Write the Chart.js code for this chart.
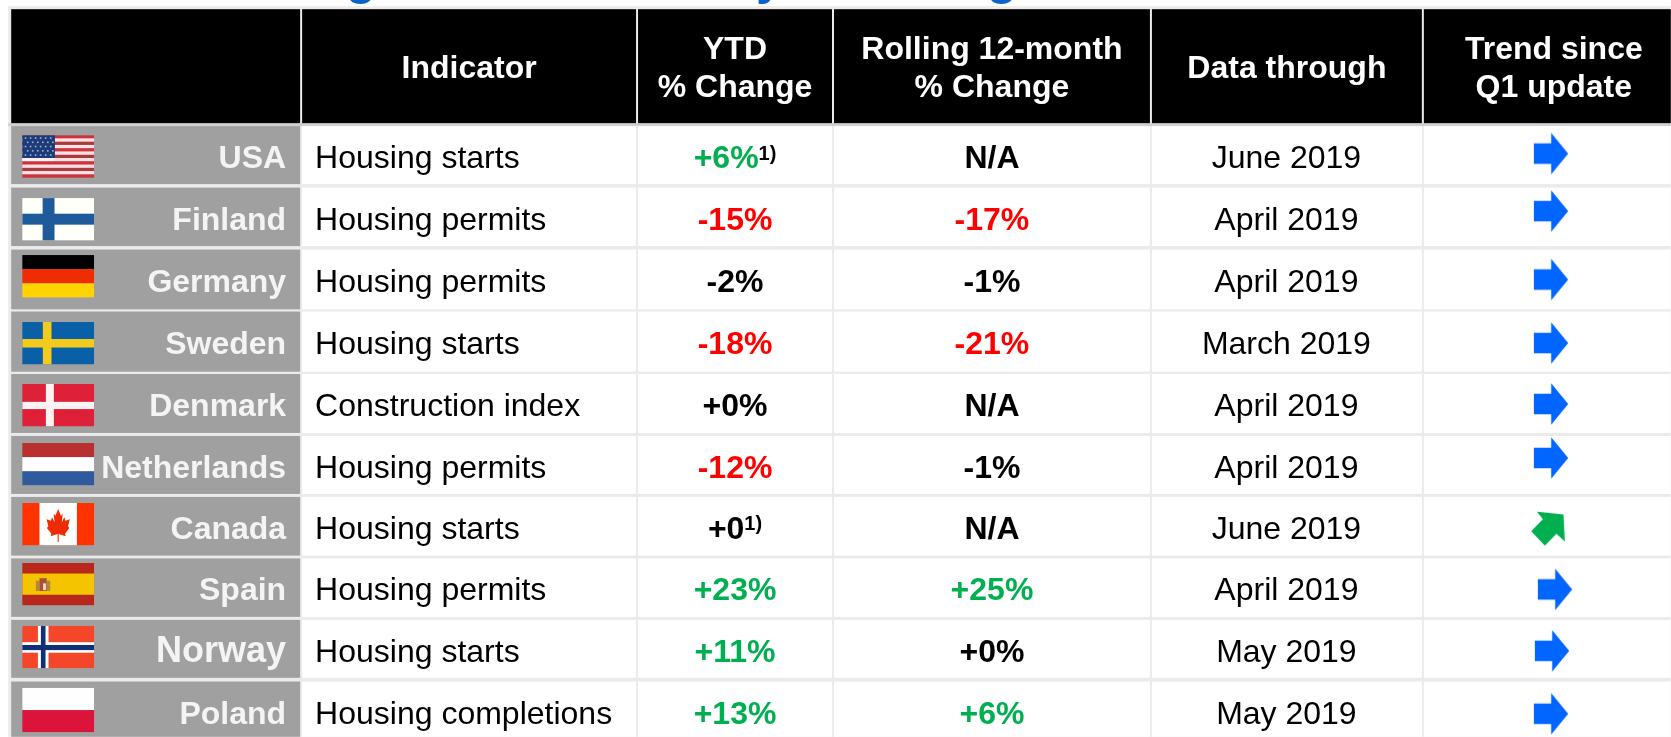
<!DOCTYPE html>
<html><head><meta charset="utf-8">
<style>html,body{margin:0;padding:0;background:#fff;overflow:hidden}canvas{display:block}</style>
<script src="https://cdn.jsdelivr.net/npm/chart.js@4"></script>
</head><body><canvas id="c" width="1671" height="737"></canvas>
<script>
// ---- data ----
const countries = ['USA','Finland','Germany','Sweden','Denmark','Netherlands','Canada','Spain','Norway','Poland'];
const indicators = ['Housing starts','Housing permits','Housing permits','Housing starts','Construction index','Housing permits','Housing starts','Housing permits','Housing starts','Housing completions'];
const ytdChange = ['+6%','-15%','-2%','-18%','+0%','-12%','+0','+23%','+11%','+13%'];
const ytdNotes = ['1)','','','','','','1)','','',''];
const rollingChange = ['N/A','-17%','-1%','-21%','N/A','-1%','N/A','+25%','+0%','+6%'];
const dataThrough = ['June 2019','April 2019','April 2019','March 2019','April 2019','April 2019','June 2019','April 2019','May 2019','May 2019'];
const trend = ['flat','flat','flat','flat','flat','flat','up','flat','flat','flat'];
const headers = ['', ['Indicator'], ['YTD','% Change'], ['Rolling 12-month','% Change'], ['Data through'], ['Trend since','Q1 update']];

// ---- layout (axis units = reference pixels) ----
const colEdges = [[11,300],[302,636],[638,832],[834,1150],[1152,1422],[1424,1671]];
const headerBox = [9,123];
const rowTops = [126,187.5,249.5,311.5,374,436,497,558.5,620,681.7];
const rowBottoms = [184,246,309.3,371.7,433,494,555.7,617,678,737];
const flagTops = [135,198,255,322,384,443,503,563,626,688];
const trendDx = [0,0,0,0,0,0,-1,4,1,0];
const trendY = [153.5,211,279.5,343,404,458,529,589.5,651,714];
const titleScraps = [['g',361],['y',770],['g',1002]];
const TRENDX = 1551;
const FONT = '"Liberation Sans", Arial, sans-serif';
const GREEN='#00b050', RED='#ff0000', BLUE='#0066ff';

function valueColor(s){
  const n=parseInt(s,10);
  if(isNaN(n)) return '#000';
  return n>=5?GREEN:(n<=-5?RED:'#000');
}
function arrowCanvas(points,color){
  const c=document.createElement('canvas');c.width=48;c.height=48;
  const g=c.getContext('2d');g.fillStyle=color;g.beginPath();
  points.forEach((p,i)=>i?g.lineTo(24+p[0],24+p[1]):g.moveTo(24+p[0],24+p[1]));
  g.closePath();g.fill();return c;
}
const arrowFlat=arrowCanvas([[-17,-10.3],[0.3,-10.3],[0.3,-20.7],[17.3,0],[0.3,20.7],[0.3,10.3],[-17,10.3]],BLUE);
const arrowUp=arrowCanvas([[-13,-17.2],[13.6,-14.5],[15,12.8],[6.6,4.8],[-5,16.8],[-18.7,2.2],[-7,-9.8]],GREEN);

// ---- flags, in unit coordinates of their box ----
function rect(g,x,y,w,h,c){g.fillStyle=c;g.fillRect(x,y,w,h);}
const flagPainters={
  USA(g,x,y,w,h){
    for(let i=0;i<13;i++) rect(g,x,y+h*i/13,w,h/13+.3,i%2?'#ffe0e6':(i%4==0?'#cf3238':'#a93b3f'));
    rect(g,x,y,w*.455,h*.54,'#1d3b78');
    g.fillStyle='#9fb4d0';
    for(let r=0;r<5;r++)for(let k=0;k<6;k++){g.fillRect(x+w*(.035+k*.07)+(r%2)*w*.03,y+h*(.05+r*.1),1.6,1.6);}
    rect(g,x,y+h*.54,w*.455,h*.07,'#fff4f6');
  },
  Finland(g,x,y,w,h){rect(g,x,y,w,h,'#fffffa');rect(g,x+w*.284,y,w*.165,h,'#1f5a9a');rect(g,x,y+h*.367,w,h*.258,'#1f5a9a');},
  Germany(g,x,y,w,h){rect(g,x,y,w,h/3,'#000');rect(g,x,y+h/3,w,h/3,'#f02c00');rect(g,x,y+h*2/3,w,h/3,'#ffd400');},
  Sweden(g,x,y,w,h){rect(g,x,y,w,h,'#0a60a6');rect(g,x+w*.287,y,w*.12,h,'#f2cb1c');rect(g,x,y+h*.4,w,h*.2,'#f2cb1c');},
  Denmark(g,x,y,w,h){rect(g,x,y,w,h,'#df2039');rect(g,x+w*.329,y,w*.111,h,'#fdf3f3');rect(g,x,y+h*.42,w,h*.17,'#fdf3f3');},
  Netherlands(g,x,y,w,h){rect(g,x,y,w,h/3,'#b8302f');rect(g,x,y+h/3,w,h/3,'#fffdff');rect(g,x,y+h*2/3,w,h/3,'#2f5a9e');},
  Canada(g,x,y,w,h){
    rect(g,x,y,w,h,'#ff3300');rect(g,x+w*.24,y,w*.52,h,'#ffffff');
    const half=[[0,0],[.2,.24],[.33,.17],[.26,.47],[.45,.29],[.53,.41],[.85,.36],[.72,.6],[.82,.66],[.5,.86],[.55,.95],[.04,.87],[.04,1.15]];
    const cx=x+w*.5,top=y+h*.14,sx=w*.19,sy=h*.68;
    g.fillStyle='#ee2a00';g.beginPath();
    half.forEach((p,i)=>i?g.lineTo(cx+p[0]*sx,top+p[1]*sy):g.moveTo(cx,top));
    half.slice().reverse().forEach(p=>g.lineTo(cx-p[0]*sx,top+p[1]*sy));
    g.closePath();g.fill();
  },
  Spain(g,x,y,w,h){
    rect(g,x,y,w,h,'#b8261c');rect(g,x,y+h*.25,w,h*.5,'#f5c400');
    rect(g,x+w*.19,y+h*.42,w*.05,h*.24,'#b08a3c');rect(g,x+w*.34,y+h*.42,w*.05,h*.24,'#b08a3c');
    rect(g,x+w*.24,y+h*.36,w*.1,h*.3,'#a8503a');rect(g,x+w*.29,y+h*.48,w*.04,h*.16,'#e9dcc0');
  },
  Norway(g,x,y,w,h){
    rect(g,x,y,w,h,'#f4472a');rect(g,x+w*.218,y,w*.148,h,'#fff');rect(g,x,y+h*.384,w,h*.248,'#fff');
    rect(g,x+w*.26,y,w*.064,h,'#0f2f7a');rect(g,x,y+h*.45,w,h*.12,'#0f2f7a');
  },
  Poland(g,x,y,w,h){rect(g,x,y,w,h*.5,'#fffefe');rect(g,x,y+h*.5,w,h*.5,'#dc143c');}
};

// ---- plugins ----
const tableGrid={id:'tableGrid',beforeDatasetsDraw(chart){
  const g=chart.ctx,X=chart.scales.x,Y=chart.scales.y;
  const box=(x0,x1,y0,y1,c)=>{const a=X.getPixelForValue(x0),b=X.getPixelForValue(x1),t=Y.getPixelForValue(y0),u=Y.getPixelForValue(y1);g.fillStyle=c;g.fillRect(a,t,b-a,u-t);};
  g.save();
  box(8,1671,6,737,'#ebebeb');
  box(8,1671,123,126,'#cfcfcf');
  colEdges.forEach(e=>box(e[0],e[1],headerBox[0],headerBox[1],'#000'));
  countries.forEach((_,r)=>colEdges.forEach((e,k)=>box(e[0],e[1],rowTops[r],rowBottoms[r],k==0?'#a0a0a0':'#fff')));
  // flags
  g.filter='blur(0.45px)';
  countries.forEach((n,r)=>{
    const x=X.getPixelForValue(22),w=X.getPixelForValue(94)-x,y=Y.getPixelForValue(flagTops[r]),h=(n=='Poland'?44.5:42.5);
    g.save();g.beginPath();g.rect(x,y,w,h);g.clip();flagPainters[n](g,x,y,w,h);g.restore();
  });
  g.restore();
},afterDatasetsDraw(chart){
  const g=chart.ctx,X=chart.scales.x,Y=chart.scales.y;
  g.save();g.textBaseline='alphabetic';
  const put=(s,x,y,font,color,align)=>{g.font=font;g.fillStyle=color;g.textAlign=align;g.fillText(s,X.getPixelForValue(x),Y.getPixelForValue(y));};
  const mid=k=>(colEdges[k][0]+colEdges[k][1])/2;
  const B=`bold 32px ${FONT}`,R=`32px ${FONT}`;
  // header
  headers.forEach((lines,k)=>{
    if(!lines.length) return;
    const cx=k==5?1554:mid(k);
    if(lines.length==1) put(lines[0],cx,78,B,'#fff','center');
    else lines.forEach((l,i)=>put(l,cx,(i?96.5:59),B,'#fff','center'));
  });
  countries.forEach((n,r)=>{
    const base=rowTops[r]+42;
    put(n,286,base,n=='Norway'?`bold 36px ${FONT}`:B,'#f4f4f4','right');
    put(indicators[r],315,base,R,'#000','left');
    // YTD with optional superscript note
    g.font=B;const w=g.measureText(ytdChange[r]).width;
    const sup=ytdNotes[r];const sw=sup?(g.font=`bold 20px ${FONT}`,g.measureText(sup).width):0;
    const x0=mid(2)-(w+sw)/2;
    put(ytdChange[r],x0,base,B,valueColor(ytdChange[r]),'left');
    if(sup) put(sup,x0+w,base-8.5,`bold 20px ${FONT}`,'#000','left');
    put(rollingChange[r],mid(3),base,B,valueColor(rollingChange[r]),'center');
    put(dataThrough[r],mid(4)-0.5,base,R,'#000','center');
  });
  // clipped descenders of the title cut off above the table
  titleScraps.forEach(t=>put(t[0],t[1],-6,`bold 50px ${FONT}`,'#0a63c9','center'));
  g.restore();
}};

new Chart(document.getElementById('c'),{
  type:'scatter',
  data:{datasets:[{
    label:'Trend since Q1 update',
    data:trend.map((t,i)=>({x:TRENDX+trendDx[i],y:trendY[i]})),
    pointStyle:trend.map(t=>t=='up'?arrowUp:arrowFlat),
    pointRadius:0.2,pointHoverRadius:0,pointBorderWidth:0,pointHoverBorderWidth:0,
    showLine:false,clip:false
  }]},
  options:{
    responsive:false,animation:false,events:[],
    layout:{padding:0},
    plugins:{legend:{display:false},tooltip:{enabled:false},title:{display:false}},
    scales:{
      x:{type:'linear',min:0,max:1671,display:false},
      y:{type:'linear',min:0,max:737,reverse:true,display:false}
    }
  },
  plugins:[tableGrid]
});
</script></body></html>
